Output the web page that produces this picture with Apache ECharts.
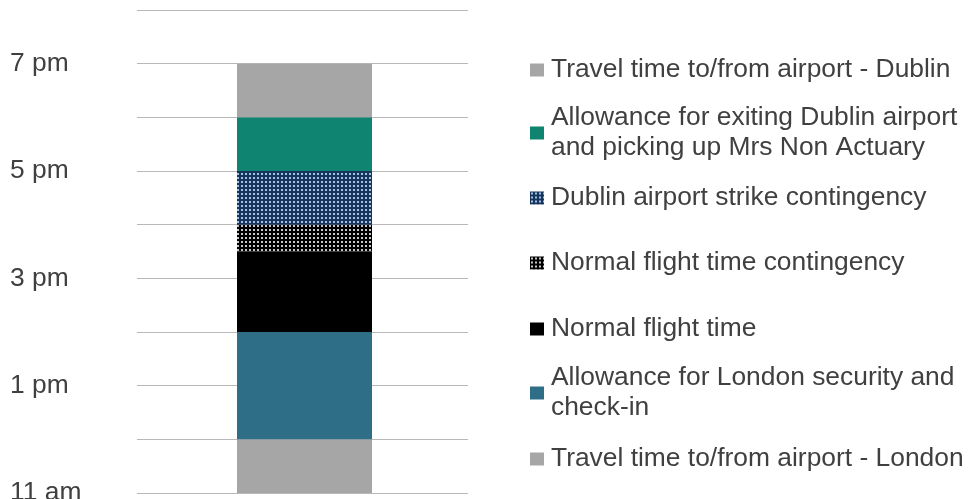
<!DOCTYPE html>
<html>
<head>
<meta charset="utf-8">
<script src="https://cdn.jsdelivr.net/npm/echarts@6/dist/echarts.min.js"></script>
<style>
html,body{margin:0;padding:0;background:#fff;}
#chart{width:970px;height:499px;}
</style>
</head>
<body>
<div id="chart"></div>
<script>
// ---- data ----
const categories = ['Journey'];
const startTime = [11]; // departure: 11 am
const seriesNames = [
  'Travel time to/from airport - London',
  'Allowance for London security and check-in',
  'Normal flight time',
  'Normal flight time contingency',
  'Dublin airport strike contingency',
  'Allowance for exiting Dublin airport and picking up Mrs Non Actuary',
  'Travel time to/from airport - Dublin'
];
const londonTravel = [1];
const londonSecurity = [2];
const flightTime = [1.5];
const flightContingency = [0.5];
const strikeContingency = [1];
const dublinExit = [1];
const dublinTravel = [1];
const seriesValues = [londonTravel, londonSecurity, flightTime, flightContingency, strikeContingency, dublinExit, dublinTravel];
const tickLabels = {11: '11 am', 13: '1 pm', 15: '3 pm', 17: '5 pm', 19: '7 pm'};
const legendLines = {
  'Allowance for London security and check-in': 'Allowance for London security and\ncheck-in',
  'Allowance for exiting Dublin airport and picking up Mrs Non Actuary': 'Allowance for exiting Dublin airport\nand picking up Mrs Non Actuary'
};

// ---- styling ----
function dotPattern(bg, dot) {
  const c = document.createElement('canvas');
  c.width = 4; c.height = 4;
  const ctx = c.getContext('2d');
  ctx.fillStyle = bg; ctx.fillRect(0, 0, 4, 4);
  ctx.fillStyle = dot; ctx.fillRect(1, 1, 2, 2);
  return {image: c, repeat: 'repeat'};
}
const colors = [
  '#a6a6a6',
  '#2e6f87',
  '#000000',
  dotPattern('#000000', '#c8c8c8'),
  dotPattern('#17345a', '#9fc2e8'),
  '#0e8471',
  '#a6a6a6'
];
const legendCenters = [459, 393, 329, 263, 198, 133, 70];
const FONT = "'Liberation Sans', Arial, sans-serif";
const TEXT = '#404040';
const LH = 30;
const FS = 26.4;

const series = [{
  name: '_base', type: 'bar', stack: 'total', data: startTime,
  xAxisIndex: 1, yAxisIndex: 1,
  itemStyle: {color: 'rgba(0,0,0,0)'}, barWidth: 135, silent: true
}];
seriesNames.forEach((n, i) => {
  series.push({
    name: n, type: 'bar', stack: 'total', data: seriesValues[i],
    xAxisIndex: 1, yAxisIndex: 1,
    barWidth: 135, itemStyle: {color: colors[i]}
  });
});

const legends = seriesNames.map((n, i) => {
  const two = !!legendLines[n];
  return {
    data: [n], left: 530,
    top: legendCenters[i] - (two ? 45 : 15),
    itemWidth: 14, itemHeight: 13, icon: 'rect',
    padding: 0, selectedMode: false,
    formatter: name => legendLines[name] || name,
    textStyle: {
      fontFamily: FONT, fontSize: FS, color: TEXT, lineHeight: LH,
      padding: two ? [LH, 0, 0, 2] : [0, 0, 0, 2]
    }
  };
});

const chart = echarts.init(document.getElementById('chart'));
chart.setOption({
  animation: false,
  textStyle: {fontFamily: FONT},
  grid: [
    {left: 137, right: 502, top: 10, bottom: 6, containLabel: false, outerBoundsMode: 'none'},
    {left: 139, right: 500, top: 10, bottom: 6, containLabel: false, outerBoundsMode: 'none'}
  ],
  legend: legends,
  xAxis: [{
    type: 'category', data: categories, gridIndex: 0,
    axisLine: {show: false}, axisTick: {show: false}, axisLabel: {show: false}
  }, {
    type: 'category', data: categories, gridIndex: 1, show: false
  }],
  yAxis: [{
    type: 'value', min: 11, max: 20, interval: 1, gridIndex: 0,
    axisLine: {show: false}, axisTick: {show: false},
    splitLine: {lineStyle: {color: '#b8b8b8', width: 1}},
    axisLabel: {
      align: 'left', margin: 127, fontFamily: FONT, fontSize: FS, color: TEXT,
      formatter: v => tickLabels[v] || ''
    }
  }, {
    type: 'value', min: 11, max: 20, interval: 1, gridIndex: 1, show: false,
    splitLine: {show: false}
  }],
  series: series
});
</script>
</body>
</html>
